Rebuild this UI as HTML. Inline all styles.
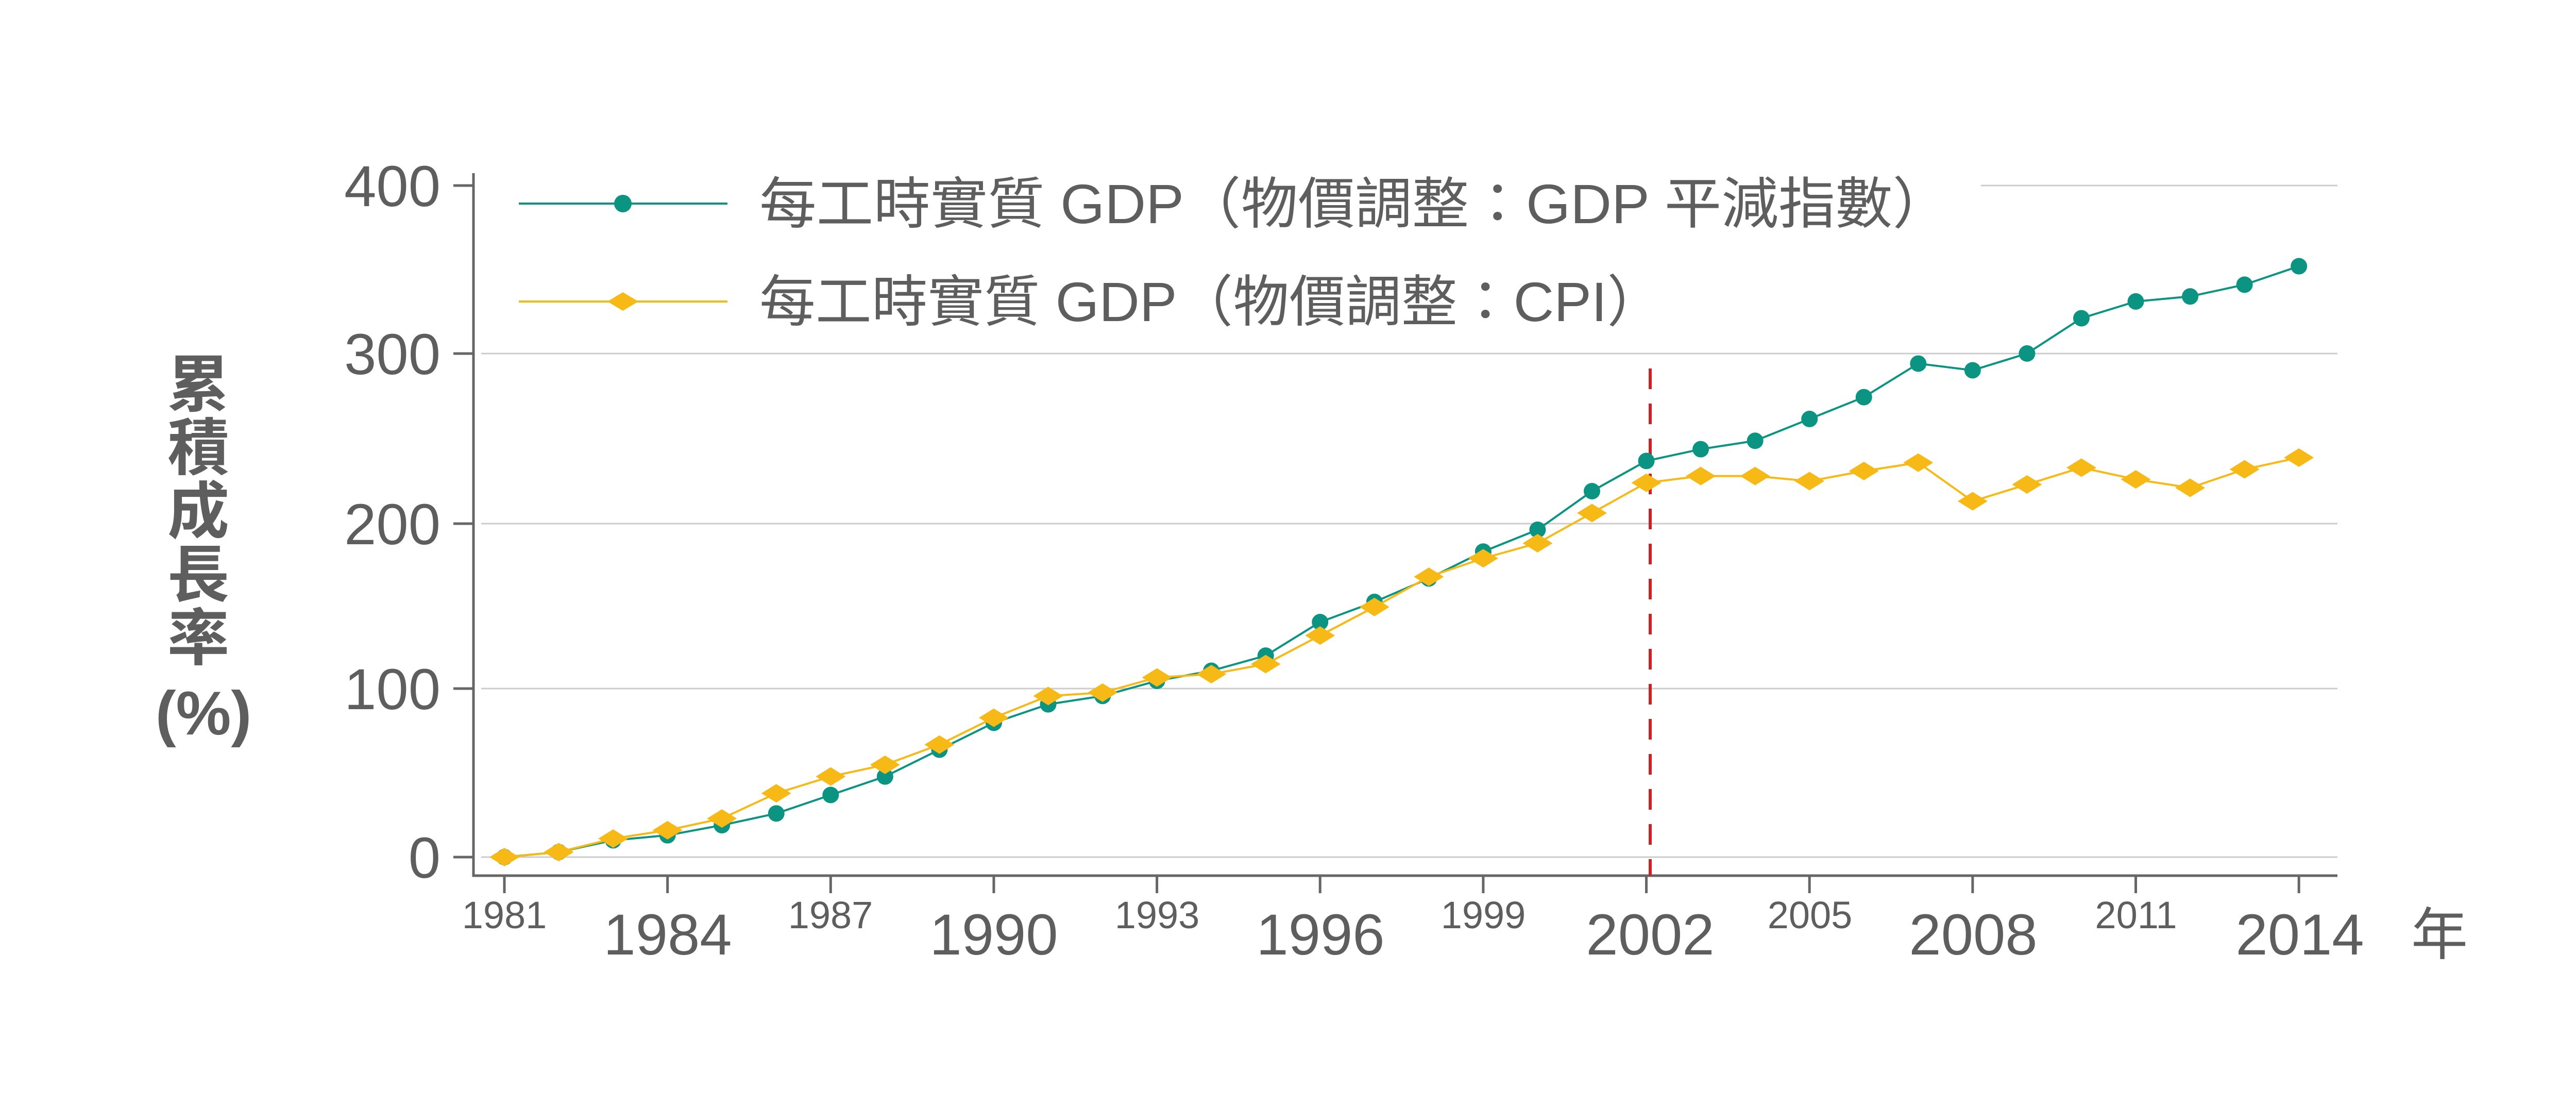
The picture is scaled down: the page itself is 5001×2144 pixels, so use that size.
<!DOCTYPE html>
<html><head><meta charset="utf-8"><style>
html,body{margin:0;padding:0;background:#fff;}
svg{display:block;}
text{font-family:"Liberation Sans","Noto Sans CJK TC",sans-serif;fill:#5e5e5e;}
</style></head><body>
<svg id="s" width="5001" height="2144" viewBox="0 0 5001 2144" xmlns="http://www.w3.org/2000/svg">
<rect width="5001" height="2144" fill="#fff"/>
<g stroke="#cccccc" stroke-width="3">
<line x1="3845" y1="360" x2="4537" y2="360"/>
<line x1="934" y1="686" x2="4537" y2="686"/>
<line x1="934" y1="1016" x2="4537" y2="1016"/>
<line x1="934" y1="1336" x2="4537" y2="1336"/>
<line x1="934" y1="1663" x2="4537" y2="1663"/>
</g>
<g stroke="#666" stroke-width="5" fill="none">
<polyline points="919,336 919,1699 4537,1699"/>
<line x1="880" y1="360" x2="919" y2="360"/>
<line x1="880" y1="686" x2="919" y2="686"/>
<line x1="880" y1="1016" x2="919" y2="1016"/>
<line x1="880" y1="1336" x2="919" y2="1336"/>
<line x1="880" y1="1663" x2="919" y2="1663"/>
</g>
<g id="xt" stroke="#666" stroke-width="5"></g>
<g font-size="112" text-anchor="end">
<text x="855" y="400">400</text>
<text x="855" y="726">300</text>
<text x="855" y="1056">200</text>
<text x="855" y="1376">100</text>
<text x="855" y="1703">0</text>
</g>
<g font-size="74" text-anchor="middle">
<text x="979" y="1801">1981</text>
<text x="1612" y="1801">1987</text>
<text x="2246" y="1801">1993</text>
<text x="2879" y="1801">1999</text>
<text x="3513" y="1801">2005</text>
<text x="4146" y="1801">2011</text>
</g>
<g font-size="112" text-anchor="middle">
<text x="1296" y="1852">1984</text>
<text x="1929" y="1852">1990</text>
<text x="2563" y="1852">1996</text>
<text x="3203" y="1852">2002</text>
<text x="3830" y="1852">2008</text>
<text x="4464" y="1852">2014</text>
<text x="4735" y="1852" font-size="110">年</text>
</g>
<g font-size="120" font-weight="bold" text-anchor="middle">
<text x="385" y="788">累</text>
<text x="385" y="911">積</text>
<text x="385" y="1034">成</text>
<text x="385" y="1157">長</text>
<text x="385" y="1280">率</text>
<text x="395" y="1425">(%)</text>
</g>
<line x1="3203" y1="715" x2="3203" y2="1699" stroke="#cc2222" stroke-width="6" stroke-dasharray="40,28"/>
<line x1="1007" y1="395" x2="1412" y2="395" stroke="#0a9481" stroke-width="4"/>
<circle cx="1209" cy="395" r="17" fill="#0a9481"/>
<line x1="1007" y1="585" x2="1412" y2="585" stroke="#f6b916" stroke-width="4"/>
<polygon points="1179,585 1209,567 1239,585 1209,603" fill="#f6b916"/>
<text x="1474" y="433" font-size="108" textLength="2310" lengthAdjust="spacingAndGlyphs">每工時實質 GDP（物價調整：GDP 平減指數）</text>
<text x="1474" y="623" font-size="108" textLength="1754" lengthAdjust="spacingAndGlyphs">每工時實質 GDP（物價調整：CPI）</text>
<g id="data"></g>
</svg>
<script>
var g=[0,3,10,13,19,26,37,48,64,80,91,96,105,111,120,140,152,166,182,195,218,236,243,248,261,274,294,290,300,321,331,334,341,352];
var c=[0,3,11,16,23,38,48,55,67,83,96,98,107,109,115,132,149,167,178,187,205,223,227,227,224,230,235,212,222,232,225,220,231,238];
var ns="http://www.w3.org/2000/svg",d=document.getElementById("data"),xt=document.getElementById("xt");
function X(i){return 979+i*105.55;}function Y(v){return 1663-3.257*v;}
function el(n,a,p){var e=document.createElementNS(ns,n);for(var k in a)e.setAttribute(k,a[k]);(p||d).appendChild(e);return e;}
for(var i=0;i<34;i+=3)el("line",{x1:X(i),y1:1699,x2:X(i),y2:1733},xt);
var pg=g.map(function(v,i){return X(i)+","+Y(v)}).join(" ");
var pc=c.map(function(v,i){return X(i)+","+Y(v)}).join(" ");
el("polyline",{points:pg,fill:"none",stroke:"#0a9481","stroke-width":4});
g.forEach(function(v,i){el("circle",{cx:X(i),cy:Y(v),r:16,fill:"#0a9481"});});
el("polyline",{points:pc,fill:"none",stroke:"#f6b916","stroke-width":4});
c.forEach(function(v,i){var x=X(i),y=Y(v);el("polygon",{points:(x-29)+","+y+" "+x+","+(y-18)+" "+(x+29)+","+y+" "+x+","+(y+18),fill:"#f6b916"});});
</script>
</body></html>
